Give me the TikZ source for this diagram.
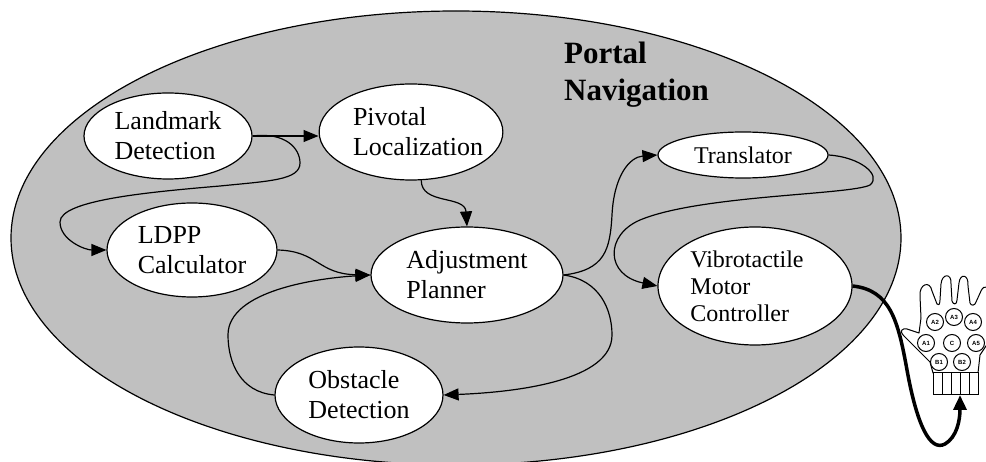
\documentclass[tikz,border=0pt]{standalone}
\usepackage{fontspec}
\setmainfont{Liberation Serif}
\newfontfamily\glovefont{Liberation Sans}
\usetikzlibrary{shapes.geometric,arrows.meta}

\definecolor{portalgray}{HTML}{C0C0C0}

\tikzset{
    module/.style={ellipse, draw, fill=white, line width=1.2pt, inner sep=0pt,
        align=left, font=\fontsize{26}{30}\selectfont},
    flow/.style={line width=1.2pt, -{Triangle[length=15pt,width=12pt]}},
    pad/.style={circle, draw, fill=white, line width=1pt, inner sep=0pt,
        minimum size=17pt, font=\glovefont\bfseries\fontsize{6}{6}\selectfont}
}

\begin{document}
\begin{tikzpicture}[x=1pt, y=-1pt]
    \useasboundingbox (0,0) rectangle (986,462);

    % Portal navigation region
    \draw[fill=portalgray, line width=1.2pt] (456,238) ellipse [x radius=445, y radius=227];
    \node[anchor=north west, align=left, font=\bfseries\fontsize{31}{37}\selectfont, inner sep=0pt]
        (title) at (564,42) {Portal\\Navigation};

    % Modules
    \node[module, minimum width=168pt, minimum height=86pt] (land) at (168,136) {Landmark\\Detection};
    \node[module, minimum width=176pt, minimum height=96pt, inner xsep=-7pt] (piv) at (411,132)
        {\hspace*{14pt}Pivotal\\\hspace*{14pt}Localization};
    \node[module, minimum width=170pt, minimum height=94pt] (ldpp) at (192,250) {LDPP\\Calculator};
    \node[module, minimum width=192pt, minimum height=96pt] (adj) at (467,275) {Adjustment\\Planner};
    \node[module, minimum width=168pt, minimum height=96pt] (obs) at (359,395) {Obstacle\\Detection};
    \node[module, minimum width=170pt, minimum height=46pt, font=\fontsize{24}{28}\selectfont]
        (trans) at (743,155) {Translator};
    \node[module, minimum width=194pt, minimum height=118pt, font=\fontsize{24}{27}\selectfont]
        (vib) at (755,286) {Vibrotactile\hspace*{16pt}\\Motor\\Controller};

    % Data flow between modules
    \draw[flow] (land.east) -- (piv.west |- land.east);
    \draw[flow] (land.east) .. controls (285,132) and (300,148) .. (300,163)
        .. controls (300,180) and (270,181) .. (220,186)
        .. controls (150,192) and (60,200) .. (60,222)
        .. controls (60,240) and (85,250) .. (ldpp.west);
    \draw[flow] (piv.-78) .. controls (421,205) and (465,195) .. (adj.north);
    \draw[flow] (ldpp.east) .. controls (318,251) and (318,274) .. (adj.west);
    \draw[flow] (obs.west) .. controls (240,392) and (228,362) .. (228,335)
        .. controls (228,290) and (320,278) .. (adj.west);
    \draw[flow] (adj.east) .. controls (600,280) and (612,310) .. (612,335)
        .. controls (612,380) and (520,392) .. (obs.east);
    \draw[flow] (adj.east) .. controls (605,270) and (610,250) .. (612,215)
        .. controls (614,175) and (630,157) .. (trans.west);
    \draw[flow] (trans.east) .. controls (860,157) and (882,175) .. (870,185)
        .. controls (850,195) and (700,195) .. (640,220)
        .. controls (605,235) and (605,275) .. (vib.west);

    % Vibrotactile glove
    \draw[fill=white, line width=1pt, line join=round]
        (933,373) -- (930,362) -- (904,336) .. controls (899,331) and (902,328) .. (907,329)
        -- (919,333) -- (921,318) -- (920,296) .. controls (919,284) and (930,280) .. (932,291)
        -- (937,304) .. controls (938,306) and (940,305) .. (940,300)
        -- (941,284) .. controls (942,273) and (952,273) .. (951,284)
        -- (952,301) .. controls (953,305) and (957,305) .. (957,300)
        -- (959,283) .. controls (960,273) and (969,274) .. (968,286)
        -- (970,303) .. controls (971,306) and (975,306) .. (976,302)
        -- (981,291) .. controls (984,284) and (990,286) .. (990,296)
        -- (990,340) -- (980,355) -- (978,373) -- cycle;
    \node[draw, fill=white, line width=1pt, minimum width=45pt, minimum height=22pt, inner sep=0pt]
        (cuff) at (955.5,384) {};
    \foreach \x in {942.5,951.5,960.5,969.5} {
        \draw[line width=1pt] (\x,373) -- (\x,395);
    }
    \node[pad] (a2) at (935,322) {A2};
    \node[pad] (a3) at (954,317) {A3};
    \node[pad] (a4) at (973,322) {A4};
    \node[pad] (a1) at (926,343) {A1};
    \node[pad] (c)  at (952,343) {C};
    \node[pad] (a5) at (976,343) {A5};
    \node[pad] (b1) at (939,362) {B1};
    \node[pad] (b2) at (962,362) {B2};

    % Motor signals to the glove
    \coordinate (wrist) at (960,395);
    \draw[line width=3.5pt, -{Triangle[length=15pt,width=13pt]}]
        (vib.east) .. controls (890,290) and (898,320) .. (907,370)
        .. controls (917,425) and (930,452) .. (945,444)
        .. controls (957,437) and (960,420) .. (wrist);
\end{tikzpicture}
\end{document}
